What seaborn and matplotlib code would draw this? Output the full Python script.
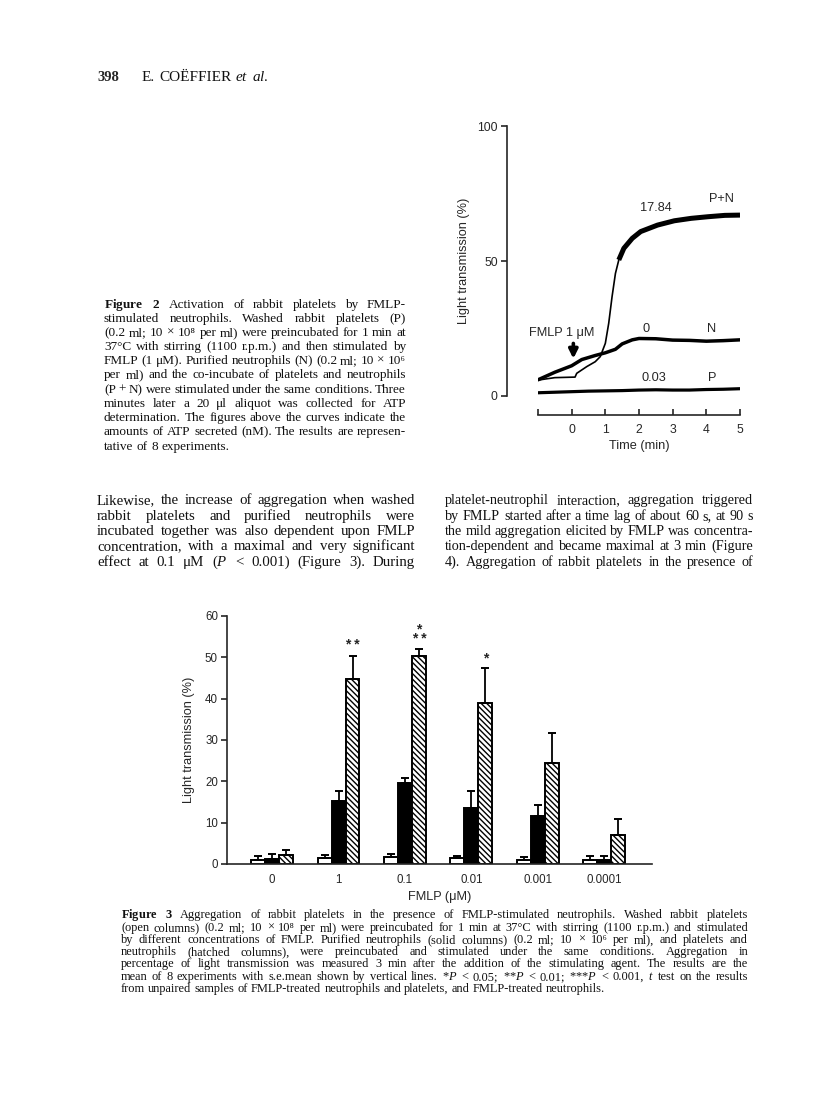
import matplotlib
matplotlib.use("Agg")

import matplotlib.pyplot as plt
import seaborn as sns
import pandas as pd
import numpy as np

# ---- Figure 2 : traces (time in min, light transmission in %) ----
t_p = [-1, -0.5, 0, 0.5, 1, 1.5, 2, 2.5, 3, 3.5, 4, 4.5, 5]
lt_p = [1.2, 1.4, 1.6, 1.8, 1.9, 2.0, 2.2, 2.3, 2.2, 2.2, 2.4, 2.5, 2.7]

t_n = [-1, -0.5, 0, 0.3, 0.7, 1.0, 1.3, 1.5, 1.8, 2.0, 2.5, 3.0, 3.5, 4.0, 4.5, 5.0]
lt_n = [6.0, 8.8, 11.2, 13.5, 15.0, 16.0, 17.3, 19.3, 20.8, 21.3, 21.2, 20.7, 20.6, 20.3, 20.5, 20.8]

t_pn = [-1, -0.5, 0.1, 0.15, 0.45, 0.7, 0.85, 1.0, 1.1, 1.2, 1.3, 1.4, 1.55,
        1.8, 2.05, 2.55, 3.05, 3.55, 4.05, 4.55, 5.0]
lt_pn = [5.9, 6.8, 7.0, 8.4, 10.9, 12.7, 14.6, 19.5, 26.9, 36.8, 45.4, 50.4, 54.7,
         58.4, 60.9, 63.3, 64.9, 65.8, 66.4, 66.9, 67.0]

trace_names = ["P+N", "N", "P"]
atp_nm = ["17.84", "0", "0.03"]

# ---- Figure 3 : bars ----
conc_labels = ["0", "1", "0.1", "0.01", "0.001", "0.0001"]
cell_groups = ["P", "N", "P+N"]
mean_p = [1.0, 1.4, 1.6, 1.4, 1.0, 1.0]
mean_n = [1.2, 15.2, 19.6, 13.5, 11.5, 1.0]
mean_pn = [2.2, 44.8, 50.4, 39.0, 24.4, 7.0]
sem_p = [1.0, 0.8, 0.9, 0.6, 0.6, 0.9]
sem_n = [1.2, 2.5, 1.2, 4.1, 2.8, 0.9]
sem_pn = [1.1, 5.6, 1.6, 8.3, 7.3, 4.0]
stars = ["", "* *", "*\n* *", "*", "", ""]

W, H, DPI = 816, 1104, 100
SERIF = ["Liberation Serif", "DejaVu Serif"]

sns.set_style("ticks")
plt.rcParams["font.family"] = ["Liberation Sans", "DejaVu Sans"]
plt.rcParams["mathtext.fontset"] = "custom"
plt.rcParams["mathtext.rm"] = "Liberation Serif"
plt.rcParams["mathtext.it"] = "Liberation Serif:italic"
plt.rcParams["mathtext.bf"] = "Liberation Serif:bold"
plt.rcParams["hatch.linewidth"] = 1.0
plt.rcParams["axes.linewidth"] = 1.2

fig = plt.figure(figsize=(W / DPI, H / DPI), dpi=DPI)
fig.patch.set_facecolor("white")
renderer = fig.canvas.get_renderer()


def box(x0, x1, ytop, ybot):
    return [x0 / W, 1 - ybot / H, (x1 - x0) / W, (ybot - ytop) / H]


def put_lines(lines, x0, x1, y0, step, size, last_free=True):
    # justified text lines, one fig.text per word
    for i, line in enumerate(lines):
        words = line.split(" ")
        y = 1 - round(y0 + i * step + 3.5) / H
        objs = [fig.text(0, y, w, family=SERIF, size=size,
                         va="baseline", color="#111111") for w in words]
        widths = [o.get_window_extent(renderer).width for o in objs]
        if (last_free and i == len(lines) - 1) or len(words) == 1:
            gap = size * DPI / 72 * 0.25
        else:
            gap = (x1 - x0 - sum(widths)) / (len(words) - 1)
        x = x0
        for o, wd in zip(objs, widths):
            o.set_x(x / W)
            x += wd + gap


# ---- page text ----
fig.text(97 / W, 1 - 81 / H, "398", family=SERIF, weight="bold",
         size=10.5, va="baseline")
put_lines([r"E. COËFFIER $\mathit{et}$ $\mathit{al.}$"], 142, 260, 77.5, 0, 11)

cap2 = [
    r"$\mathbf{Figure}$ $\mathbf{2}$ Activation of rabbit platelets by FMLP-",
    "stimulated neutrophils. Washed rabbit platelets (P)",
    "(0.2 ml; 10 × 10⁸ per ml) were preincubated for 1 min at",
    "37°C with stirring (1100 r.p.m.) and then stimulated by",
    "FMLP (1 μM). Purified neutrophils (N) (0.2 ml; 10 × 10⁶",
    "per ml) and the co-incubate of platelets and neutrophils",
    "(P + N) were stimulated under the same conditions. Three",
    "minutes later a 20 μl aliquot was collected for ATP",
    "determination. The figures above the curves indicate the",
    "amounts of ATP secreted (nM). The results are represen-",
    "tative of 8 experiments.",
]
put_lines(cap2, 104, 406, 304, 14.2, 9.5)

left_col = [
    "Likewise, the increase of aggregation when washed",
    "rabbit platelets and purified neutrophils were",
    "incubated together was also dependent upon FMLP",
    "concentration, with a maximal and very significant",
    r"effect at 0.1 μM ($\mathit{P}$ < 0.001) (Figure 3). During",
]
put_lines(left_col, 97, 415, 501, 15.3, 10.7, last_free=False)

right_col = [
    "platelet-neutrophil interaction, aggregation triggered",
    "by FMLP started after a time lag of about 60 s, at 90 s",
    "the mild aggregation elicited by FMLP was concentra-",
    "tion-dependent and became maximal at 3 min (Figure",
    "4). Aggregation of rabbit platelets in the presence of",
]
put_lines(right_col, 445, 753, 501, 15.3, 10.2, last_free=False)

cap3 = [
    r"$\mathbf{Figure}$ $\mathbf{3}$ Aggregation of rabbit platelets in the presence of FMLP-stimulated neutrophils. Washed rabbit platelets",
    "(open columns) (0.2 ml; 10 × 10⁸ per ml) were preincubated for 1 min at 37°C with stirring (1100 r.p.m.) and stimulated",
    "by different concentrations of FMLP. Purified neutrophils (solid columns) (0.2 ml; 10 × 10⁶ per ml), and platelets and",
    "neutrophils (hatched columns), were preincubated and stimulated under the same conditions. Aggregation in",
    "percentage of light transmission was measured 3 min after the addition of the stimulating agent. The results are the",
    r"mean of 8 experiments with s.e.mean shown by vertical lines. *$\mathit{P}$ < 0.05; **$\mathit{P}$ < 0.01; ***$\mathit{P}$ < 0.001, $\mathit{t}$ test on the results",
    "from unpaired samples of FMLP-treated neutrophils and platelets, and FMLP-treated neutrophils.",
]
put_lines(cap3, 121, 748, 915, 12.2, 8.9)

# ---- Figure 2 ----
ax2 = fig.add_axes(box(538, 740, 126, 396))
sns.lineplot(x=t_p, y=lt_p, color="black", lw=2.3, ax=ax2, estimator=None, sort=False)
sns.lineplot(x=t_n, y=lt_n, color="black", lw=2.5, ax=ax2, estimator=None, sort=False)
tpn = np.array(t_pn)
ypn = np.array(lt_pn)
thin = tpn <= 1.55
thick = tpn >= 1.4
sns.lineplot(x=tpn[thin], y=ypn[thin], color="black", lw=1.2, ax=ax2, estimator=None, sort=False)
sns.lineplot(x=tpn[thick], y=ypn[thick], color="black", lw=3.6, ax=ax2, estimator=None,
             sort=False, solid_capstyle="butt")

ax2.set_xlim(-1, 5)
ax2.set_ylim(0, 100)
ax2.set_xticks(range(-1, 6))
ax2.set_xticklabels([""] + [str(i) for i in range(6)])
ax2.set_yticks([0, 50, 100])
ax2.tick_params(axis="x", direction="in", length=4, width=1.2, pad=6, labelsize=8.8)
ax2.tick_params(axis="y", direction="out", length=4, width=1.2, pad=3, labelsize=8.8)
for s in ["top", "right"]:
    ax2.spines[s].set_visible(False)
ax2.spines["left"].set_position(("outward", 22))
ax2.spines["bottom"].set_position(("outward", 14))
ax2.set_xlabel("Time (min)", fontsize=9.2, labelpad=3)
ax2.set_ylabel("Light transmission (%)", fontsize=9.2, labelpad=5)

lab_y = [73, 25, 6.7]
atp_xy = [(2.5, 69.5), (2.2, 25), (2.45, 6.7)]
for name, val, ly, (ax_, ay_) in zip(trace_names, atp_nm, lab_y, atp_xy):
    ax2.text(4.45 if name == "P+N" else 4.17, ly, name, ha="center", va="center", fontsize=9.2)
    ax2.text(ax_, ay_, val, ha="center", va="center", fontsize=9.2)
ax2.text(-0.3, 23.4, "FMLP 1 μM", ha="center", va="center", fontsize=9.2)
ax2.annotate("", xy=(0.05, 12.8), xytext=(0.05, 20.5),
             arrowprops=dict(arrowstyle="-|>", lw=2.6, color="black", mutation_scale=13))

# ---- Figure 3 ----
ax3 = fig.add_axes(box(227, 652, 616, 864))
df = pd.DataFrame({
    "conc": conc_labels * 3,
    "cells": [c for c in cell_groups for _ in conc_labels],
    "lt": mean_p + mean_n + mean_pn,
})
sns.barplot(data=df, x="conc", y="lt", hue="cells", order=conc_labels,
            hue_order=cell_groups, width=0.63, errorbar=None, legend=False,
            palette=["white", "black", "white"], edgecolor="black", linewidth=1.4,
            saturation=1, ax=ax3)

sems = [sem_p, sem_n, sem_pn]
bar_sets = list(ax3.containers)
for k, cont in enumerate(bar_sets):
    xs, ys = [], []
    for bar in cont:
        if k == 2:
            bar.set_hatch("\\\\\\\\\\\\")
        xs.append(bar.get_x() + bar.get_width() / 2)
        ys.append(bar.get_height())
    ax3.errorbar(xs, ys, yerr=[np.zeros(len(ys)), sems[k]], fmt="none",
                 ecolor="black", elinewidth=1.3, capsize=3.2, capthick=1.4, zorder=1)
    if k == 2:
        for x, y, e, st in zip(xs, ys, sems[k], stars):
            if st:
                ax3.text(x, y + e + 0.8, st, ha="center", va="bottom", fontsize=10,
                         fontweight="bold", linespacing=0.55)

ax3.set_xlim(-0.68, 5.72)
ax3.set_ylim(0, 60)
ax3.set_yticks(range(0, 61, 10))
ax3.tick_params(axis="x", length=0, pad=7, labelsize=8.3)
ax3.tick_params(axis="y", direction="out", length=4, width=1.2, pad=2.5, labelsize=8.3)
for s in ["top", "right"]:
    ax3.spines[s].set_visible(False)
ax3.set_xlabel("FMLP (μM)", fontsize=9.2, labelpad=4)
ax3.set_ylabel("Light transmission (%)", fontsize=9.2, labelpad=7)

fig.savefig("out.png", dpi=DPI, facecolor="white")
